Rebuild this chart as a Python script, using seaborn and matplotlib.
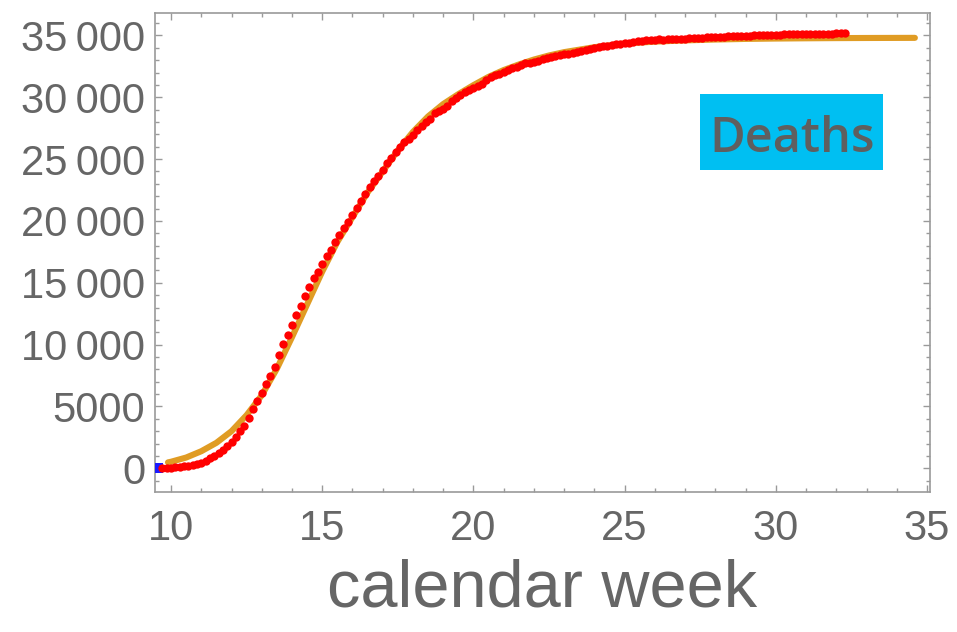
import numpy as np
import pandas as pd
import matplotlib
matplotlib.use('Agg')
import matplotlib.pyplot as plt
import matplotlib.ticker as mticker
import matplotlib.patches as mpatches
import seaborn as sns

# cumulative deaths, one value per day
first_day = '2020-02-24'
deaths_feb = [7, 10, 12, 17, 21, 29]
deaths_mar = [34, 52, 79, 107, 148, 197, 233, 366, 463, 631, 827, 1016, 1266, 1441, 1809,
              2158, 2503, 2978, 3405, 4032, 4825, 5476, 6077, 6820, 7503, 8165, 9134, 10023,
              10779, 11591, 12428]
deaths_apr = [13155, 13915, 14681, 15362, 15887, 16523, 17127, 17669, 18279, 18849, 19468,
              19899, 20465, 21067, 21645, 22170, 22745, 23227, 23660, 24114, 24648, 25085,
              25549, 25969, 26384, 26644, 26977, 27359, 27682, 27967]
deaths_may = [28236, 28710, 28884, 29079, 29315, 29684, 29958, 30201, 30395, 30560, 30739,
              30911, 31106, 31368, 31610, 31763, 31908, 32007, 32169, 32330, 32486, 32616,
              32735, 32785, 32877, 32955, 33072, 33142, 33229, 33340, 33415]
deaths_jun = [33475, 33530, 33601, 33689, 33774, 33846, 33899, 33964, 34043, 34114, 34167,
              34223, 34301, 34345, 34371, 34405, 34448, 34514, 34561, 34610, 34634, 34657,
              34675, 34644, 34678, 34708, 34716, 34738, 34744, 34767]
deaths_jul = [34788, 34818, 34833, 34854, 34861, 34869, 34899, 34914, 34926, 34938, 34945,
              34954, 34967, 34984, 34997, 35017, 35028, 35042, 35045, 35058, 35073, 35082,
              35092, 35097, 35102, 35107, 35112, 35123, 35129, 35132, 35141]
deaths_aug = [35146, 35154, 35166, 35171, 35181]
n_blue = 5  # first points drawn in blue

# fitted curve
fit_weeks = [9.9, 10.0, 10.5, 11.0, 11.5, 12.0, 12.5, 13.0, 13.5, 14.0, 14.5, 15.0, 15.5,
             16.0, 16.5, 17.0, 17.5, 18.0, 18.5, 19.0, 19.5, 20.0, 20.5, 21.0, 21.5, 22.0,
             22.5, 23.0, 24.0, 25.0, 26.0, 27.0, 28.0, 29.0, 30.0, 31.0, 32.0, 33.0, 34.6]
fit_values = [480, 530, 870, 1380, 2060, 3000, 4300, 5900, 8050, 10600, 13250, 15900, 18300,
              20300, 22300, 24000, 25700, 27200, 28450, 29450, 30250, 30980, 31650, 32200,
              32650, 33050, 33380, 33650, 34050, 34350, 34500, 34600, 34670, 34720, 34750,
              34770, 34785, 34795, 34805]

deaths = deaths_feb + deaths_mar + deaths_apr + deaths_may + deaths_jun + deaths_jul + deaths_aug
dates = pd.date_range(first_day, periods=len(deaths), freq='D')
iso = dates.isocalendar()
df = pd.DataFrame({'week': iso['week'].to_numpy().astype(float) + dates.weekday.to_numpy() / 7,
                   'deaths': deaths})
fit = pd.DataFrame({'week': fit_weeks, 'deaths': fit_values})

sns.set_style('ticks')
plt.rcParams['font.family'] = ['Liberation Sans', 'DejaVu Sans']
grey = '#666666'
frame = '#9a9a9a'

fig = plt.figure(figsize=(9.57, 6.32), dpi=100)
ax = fig.add_axes([155 / 957, 1 - 492 / 632, 775 / 957, 479 / 632])

sns.lineplot(data=fit, x='week', y='deaths', color='#e09c24', linewidth=4.4,
             sort=False, estimator=None, ax=ax, zorder=2)
sns.scatterplot(data=df.iloc[:n_blue], x='week', y='deaths', color='#1a1aff', marker='s',
                s=44, linewidth=0, ax=ax, zorder=3)
sns.scatterplot(data=df.iloc[n_blue:], x='week', y='deaths', color='#ff0000', s=36,
                linewidth=0, ax=ax, zorder=4)

ax.set_xlim(9.47, 35.1)
ax.set_ylim(-1916, 36815)


def thin_group(v, pos):
    v = int(round(v))
    if abs(v) >= 10000:
        return f'{v:,}'.replace(',', '\u2009')
    return str(v)


ax.xaxis.set_major_locator(mticker.MultipleLocator(5))
ax.xaxis.set_minor_locator(mticker.MultipleLocator(1))
ax.yaxis.set_major_locator(mticker.MultipleLocator(5000))
ax.yaxis.set_minor_locator(mticker.MultipleLocator(1000))
ax.yaxis.set_major_formatter(mticker.FuncFormatter(thin_group))
ax.tick_params(which='both', direction='in', top=True, right=True, color=frame, width=1)
ax.tick_params(which='major', length=5, labelsize=30, labelcolor=grey)
ax.tick_params(which='minor', length=3)
ax.tick_params(axis='x', which='major', pad=12)
ax.tick_params(axis='y', which='major', pad=7)
for sp in ax.spines.values():
    sp.set_color(frame)
    sp.set_linewidth(1.2)

ax.set_xlabel('calendar week', fontsize=48, color=grey, labelpad=7)
ax.set_ylabel('')

ax.add_patch(mpatches.Rectangle((545 / 775, 322 / 479), 183 / 775, 76 / 479,
                                transform=ax.transAxes, facecolor='#00bff2',
                                edgecolor='none', zorder=5))
ax.text(637 / 775, (492 - 151.7) / 479, 'Deaths', transform=ax.transAxes, ha='center',
        va='baseline', fontsize=35, color='#5f5f5f', fontweight='semibold',
        family=['Open Sans', 'DejaVu Sans'], zorder=6)

fig.savefig('out.png', dpi=100)
